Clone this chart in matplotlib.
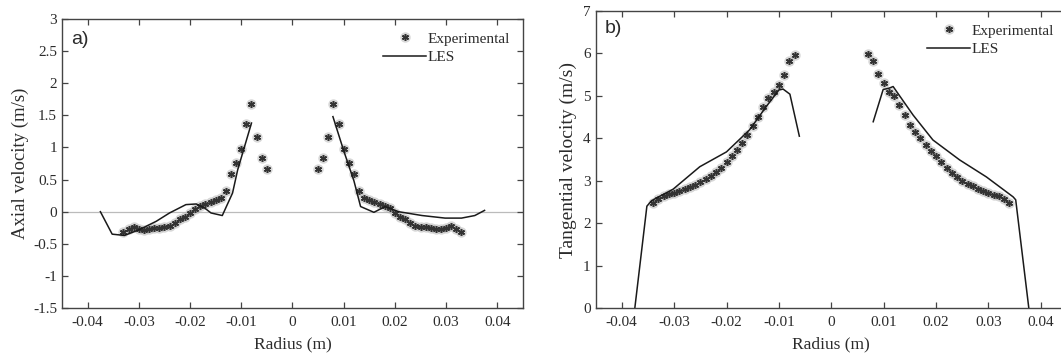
import matplotlib.pyplot as plt

# Axial velocity, experimental points (radius in m, velocity in m/s)
ax_exp_r = [-0.033, -0.032, -0.031, -0.030, -0.029, -0.028, -0.027, -0.026, -0.025,
            -0.024, -0.023, -0.022, -0.021, -0.020, -0.019, -0.018, -0.017, -0.016,
            -0.015, -0.014, -0.013, -0.012, -0.011, -0.010, -0.009, -0.008, -0.007,
            -0.006, -0.005,
            0.005, 0.006, 0.007, 0.008, 0.009, 0.010, 0.011, 0.012, 0.013, 0.014,
            0.015, 0.016, 0.017, 0.018, 0.019, 0.020, 0.021, 0.022, 0.023, 0.024,
            0.025, 0.026, 0.027, 0.028, 0.029, 0.030, 0.031, 0.032, 0.033]
ax_exp_v = [-0.31, -0.27, -0.24, -0.27, -0.28, -0.27, -0.26, -0.25, -0.24,
            -0.23, -0.17, -0.12, -0.08, -0.02, 0.04, 0.09, 0.12, 0.15,
            0.18, 0.21, 0.32, 0.58, 0.76, 0.98, 1.37, 1.68, 1.16,
            0.83, 0.67,
            0.67, 0.83, 1.16, 1.68, 1.37, 0.98, 0.76, 0.58, 0.32, 0.21,
            0.18, 0.15, 0.12, 0.09, 0.05, -0.02, -0.08, -0.12, -0.17, -0.22,
            -0.24, -0.24, -0.25, -0.27, -0.27, -0.26, -0.22, -0.27, -0.32]

# Axial velocity, LES (two branches either side of the axis)
ax_les_r1 = [-0.0375, -0.0352, -0.0328, -0.0299, -0.0266, -0.0240, -0.0208, -0.0188,
             -0.0172, -0.0159, -0.0137, -0.0117, -0.0107, -0.0080]
ax_les_v1 = [0.00, -0.35, -0.37, -0.28, -0.15, -0.02, 0.11, 0.12,
             0.06, -0.02, -0.06, 0.29, 0.65, 1.38]
ax_les_r2 = [0.0079, 0.0100, 0.0120, 0.0133, 0.0159, 0.0181, 0.0207, 0.0253,
             0.0298, 0.0330, 0.0356, 0.0375]
ax_les_v2 = [1.48, 0.95, 0.48, 0.08, -0.01, 0.08, 0.00, -0.06,
             -0.10, -0.10, -0.06, 0.02]

# Tangential velocity, experimental points
tg_exp_r = [-0.034, -0.033, -0.032, -0.031, -0.030, -0.029, -0.028, -0.027, -0.026,
            -0.025, -0.024, -0.023, -0.022, -0.021, -0.020, -0.019, -0.018, -0.017,
            -0.016, -0.015, -0.014, -0.013, -0.012, -0.011, -0.010, -0.009, -0.008,
            -0.007,
            0.007, 0.008, 0.009, 0.010, 0.011, 0.012, 0.013, 0.014, 0.015, 0.016,
            0.017, 0.018, 0.019, 0.020, 0.021, 0.022, 0.023, 0.024, 0.025, 0.026,
            0.027, 0.028, 0.029, 0.030, 0.031, 0.032, 0.033, 0.034]
tg_exp_v = [2.48, 2.58, 2.63, 2.68, 2.72, 2.76, 2.80, 2.85, 2.90,
            2.96, 3.03, 3.11, 3.20, 3.31, 3.44, 3.58, 3.73, 3.90,
            4.08, 4.28, 4.50, 4.74, 4.95, 5.10, 5.25, 5.50, 5.82,
            5.97,
            5.98, 5.83, 5.52, 5.30, 5.10, 5.00, 4.78, 4.55, 4.32, 4.15,
            4.00, 3.85, 3.70, 3.58, 3.44, 3.30, 3.18, 3.08, 3.00, 2.93,
            2.87, 2.81, 2.76, 2.71, 2.67, 2.63, 2.58, 2.48]

# Tangential velocity, LES
tg_les_r1 = [-0.0375, -0.0352, -0.0343, -0.0302, -0.0251, -0.0200, -0.0156, -0.0124,
             -0.0100, -0.0092, -0.0079, -0.0061]
tg_les_v1 = [0.00, 2.40, 2.53, 2.80, 3.33, 3.68, 4.20, 4.75,
             5.14, 5.16, 5.04, 4.05]
tg_les_r2 = [0.0080, 0.0099, 0.0110, 0.0118, 0.0156, 0.0194, 0.0245, 0.0296,
             0.0347, 0.0352, 0.0377]
tg_les_v2 = [4.39, 5.15, 5.18, 5.22, 4.55, 3.96, 3.49, 3.09,
             2.62, 2.55, 0.00]

serif = 'Liberation Serif'
txt = '#2b2b2b'
halo = dict(linestyle='none', marker='o', markersize=7.5, color='#a8a8a8',
            markeredgewidth=0, alpha=0.45)
star = dict(linestyle='none', marker=(6, 2, 0), markersize=5, color='#333333',
            markeredgewidth=1.1)
line = dict(color='#1a1a1a', linewidth=1.1)


def draw_exp(ax, r, v):
    h1, = ax.plot(r, v, **halo)
    h2, = ax.plot(r, v, **star)
    return (h1, h2)


fig = plt.figure(figsize=(10.61, 3.54), dpi=100)
ax1 = fig.add_axes([0.0584, 0.1299, 0.4345, 0.8164])
ax2 = fig.add_axes([0.5613, 0.1299, 0.4444, 0.8390])

# a) axial velocity
ax1.axhline(0, color='#bbbbbb', linewidth=0.9, zorder=0)
e1 = draw_exp(ax1, ax_exp_r, ax_exp_v)
l1, = ax1.plot(ax_les_r1, ax_les_v1, **line)
ax1.plot(ax_les_r2, ax_les_v2, **line)
ax1.set_xlim(-0.045, 0.045)
ax1.set_ylim(-1.5, 3)
ax1.set_yticks([-1.5, -1, -0.5, 0, 0.5, 1, 1.5, 2, 2.5, 3])
ax1.set_yticklabels(['-1.5', '-1', '-0.5', '0', '0.5', '1', '1.5', '2', '2.5', '3'])
ax1.set_ylabel('Axial velocity (m/s)', fontfamily=serif, fontsize=13.5, color=txt, labelpad=3)
ax1.text(0.02, 0.93, 'a)', transform=ax1.transAxes, fontfamily='Liberation Sans',
         fontsize=14, color=txt, va='center')

# b) tangential velocity
e2 = draw_exp(ax2, tg_exp_r, tg_exp_v)
l2, = ax2.plot(tg_les_r1, tg_les_v1, **line)
ax2.plot(tg_les_r2, tg_les_v2, **line)
ax2.set_xlim(-0.045, 0.045)
ax2.set_ylim(0, 7)
ax2.set_yticks(range(0, 8))
ax2.set_ylabel('Tangential velocity (m/s)', fontfamily=serif, fontsize=14, color=txt, labelpad=4)
ax2.text(0.02, 0.94, 'b)', transform=ax2.transAxes, fontfamily='Liberation Sans',
         fontsize=14, color=txt, va='center')

xt = [-0.04, -0.03, -0.02, -0.01, 0, 0.01, 0.02, 0.03, 0.04]
xl = ['-0.04', '-0.03', '-0.02', '-0.01', '0', '0.01', '0.02', '0.03', '0.04']
for ax, e, l in ((ax1, e1, l1), (ax2, e2, l2)):
    ax.set_xticks(xt)
    ax.set_xticklabels(xl)
    ax.set_xlabel('Radius (m)', fontfamily=serif, fontsize=12.5, color=txt, labelpad=5)
    ax.tick_params(direction='in', top=True, right=True, length=4, width=0.9,
                   labelsize=11, labelcolor=txt, color='#444444')
    ax.tick_params(axis='x', pad=6)
    for lab in ax.get_xticklabels() + ax.get_yticklabels():
        lab.set_fontfamily(serif)
    for s in ax.spines.values():
        s.set_color('#444444')
        s.set_linewidth(1.0)
    leg = ax.legend([e, l], ['Experimental', 'LES'], loc='upper right', frameon=False,
                    prop={'family': serif, 'size': 11}, handlelength=2.8,
                    handletextpad=0.1, labelspacing=0.3, borderaxespad=0.45)
    for t in leg.get_texts():
        t.set_color(txt)

fig.savefig('out.png', dpi=100)
